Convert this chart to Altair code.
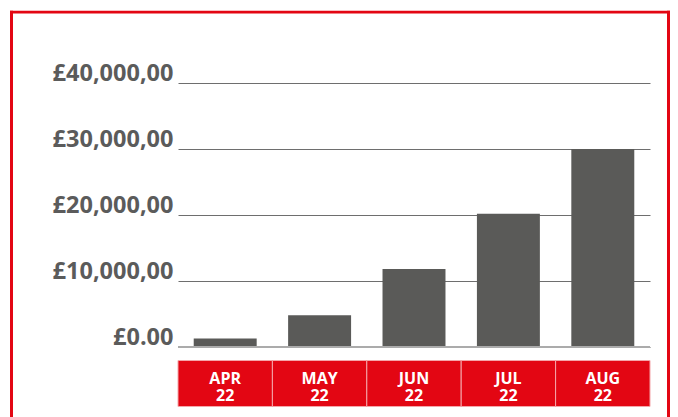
import altair as alt
import pandas as pd

RED = "#e30613"
BAR = "#5a5a58"
LABEL = "#5b5b5b"

months = ["APR", "MAY", "JUN", "JUL", "AUG"]
years = ["22", "22", "22", "22", "22"]
values = [1300, 4800, 11800, 20200, 30000]
tick_values = [0, 10000, 20000, 30000, 40000]
tick_labels = ["£0.00", "£10,000,00", "£20,000,00", "£30,000,00", "£40,000,00"]

df = pd.DataFrame({
    "month": months,
    "label": [f"{m}\n{y}" for m, y in zip(months, years)],
    "value": values,
})
one = pd.DataFrame({"k": [0]})

label_expr = " : ".join(
    [f"datum.value == {v} ? '{l}'" for v, l in zip(tick_values, tick_labels)]
) + " : ''"

x = alt.X("month:N", sort=months, axis=None,
          scale=alt.Scale(paddingInner=0, paddingOuter=0))
y = alt.Y("value:Q", scale=alt.Scale(domain=[0, 40000]),
          axis=alt.Axis(values=tick_values, labelExpr=label_expr, grid=True,
                        gridColor="#6e6e6e", gridWidth=1, domain=False,
                        ticks=False, labelFont="Open Sans",
                        labelFontWeight="bold", labelFontSize=23.5,
                        labelColor=LABEL, labelPadding=5,
                        labelBaseline="alphabetic", labelOffset=-3,
                        title=None))

# decorative frame (left, top, right edges) as filled strips
frame_left = alt.Chart(one).mark_rect(color=RED).encode(
    x=alt.value(-168), x2=alt.value(-165), y=alt.value(-72.2), y2=alt.value(345))
frame_right = alt.Chart(one).mark_rect(color=RED).encode(
    x=alt.value(489), x2=alt.value(492), y=alt.value(-72.2), y2=alt.value(345))
frame_top = alt.Chart(one).mark_rect(color=RED).encode(
    x=alt.value(-168), x2=alt.value(492), y=alt.value(-72.2), y2=alt.value(-69.4))

base = alt.Chart(df)

bars = base.mark_bar(color=BAR, width=alt.RelativeBandSize(0.667)).encode(x=x, y=y)

baseline = alt.Chart(one).mark_rule(color="#ababab", strokeWidth=2).encode(
    y=alt.datum(0)
)

boxes = base.mark_rect(color=RED, stroke="#f4a6aa", strokeWidth=1).encode(
    x=x, y=alt.value(277.5), y2=alt.value(323.5)
)

texts = base.mark_text(color="white", font="Open Sans", fontWeight="bold",
                       fontSize=16, lineBreak="\n", baseline="alphabetic",
                       lineHeight=16.5).encode(
    x=x, y=alt.value(301), text="label:N"
)

chart = alt.layer(frame_left, frame_right, frame_top, bars, baseline, boxes, texts).properties(
    width=472, height=264,
    padding={"left": 2, "top": 2, "right": 0, "bottom": 0},
    background="white",
).configure_view(strokeWidth=0)

chart.save("out.html", embed_options={"renderer": "svg", "actions": False})
